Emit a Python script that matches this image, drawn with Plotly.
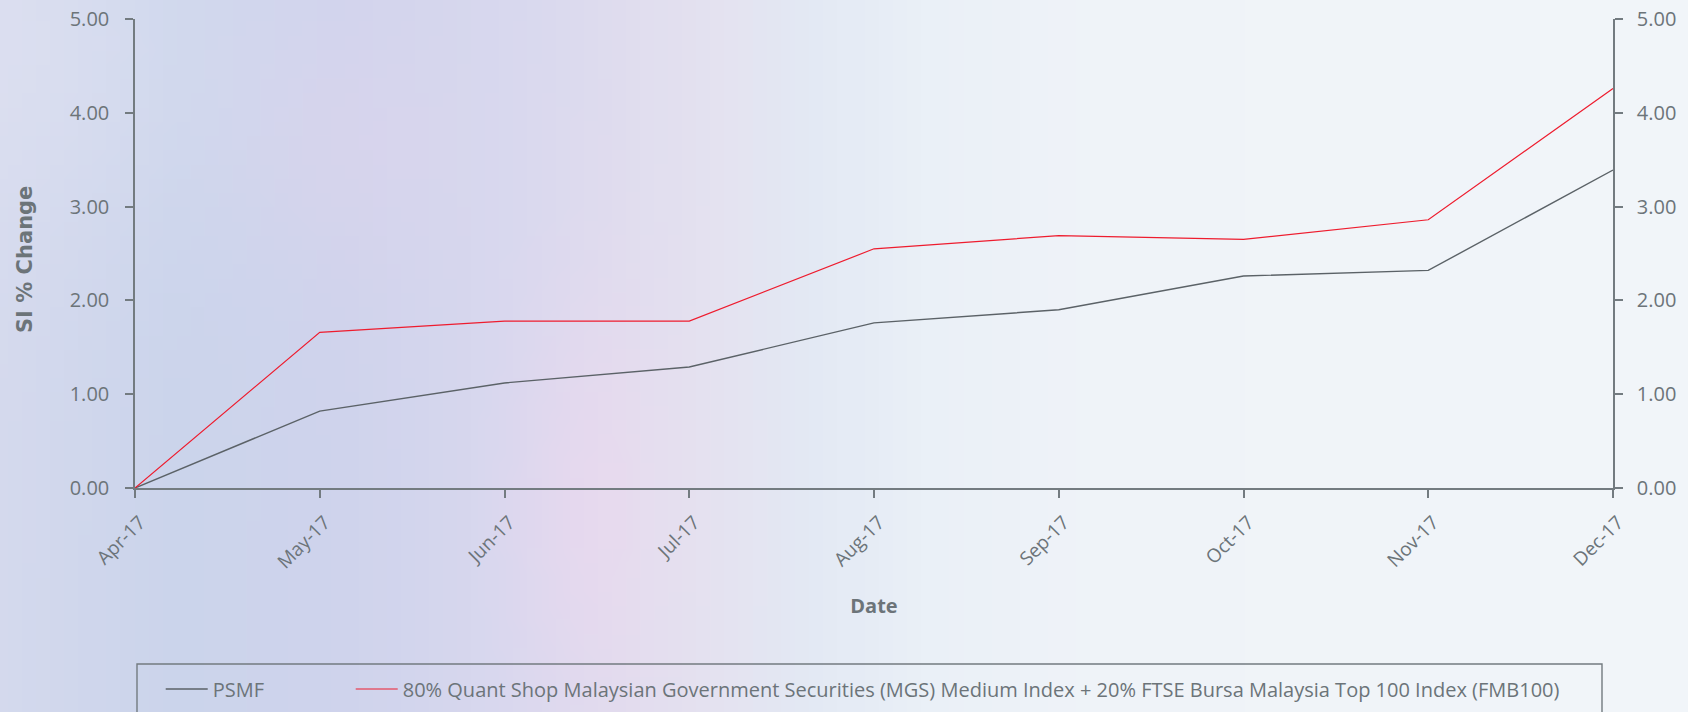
import base64, struct, zlib, math
import plotly.graph_objects as go

# ---------------- data ----------------
months = ["Apr-17", "May-17", "Jun-17", "Jul-17", "Aug-17", "Sep-17", "Oct-17", "Nov-17", "Dec-17"]
psmf = [0.00, 0.82, 1.12, 1.29, 1.76, 1.90, 2.26, 2.32, 3.39]
benchmark = [0.00, 1.66, 1.78, 1.78, 2.55, 2.69, 2.65, 2.86, 4.26]
y_ticks = [0, 1, 2, 3, 4, 5]
series_names = ["PSMF",
                "80% Quant Shop Malaysian Government Securities (MGS) Medium Index + 20% FTSE Bursa Malaysia Top 100 Index (FMB100)"]
y_title = "SI % Change"
x_title = "Date"

W, H = 1688, 712
ML, MR, MT, MB = 135, 75, 19, 224
PW, PH = W - ML - MR, H - MT - MB

GRAY = "#6c7479"
AXIS = "#737b80"
FONT = "Open Sans"

# ---------------- decorative background (watercolour wash) ----------------
def bg_png(w=120, h=50):
    stops = [(0.00, (212, 217, 237)), (0.10, (203, 212, 235)), (0.20, (207, 211, 236)),
             (0.30, (216, 216, 238)), (0.36, (223, 220, 238)), (0.42, (228, 226, 240)),
             (0.48, (227, 233, 244)), (0.55, (234, 240, 247)), (0.65, (239, 243, 248)),
             (1.00, (241, 245, 249))]
    def base(xf):
        for (x0, c0), (x1, c1) in zip(stops, stops[1:]):
            if x0 <= xf <= x1:
                t = (xf - x0) / (x1 - x0)
                return [c0[i] + (c1[i] - c0[i]) * t for i in range(3)]
        return list(stops[-1][1])
    rows = []
    for j in range(h):
        yf = j / (h - 1)
        row = bytearray([0])
        for i in range(w):
            xf = i / (w - 1)
            c = base(xf)
            g = math.exp(-((xf - 0.345) / 0.05) ** 2 - ((yf - 0.72) / 0.3) ** 2)
            c = [c[0] + 9 * g, c[1] - 2 * g, c[2] + 0 * g]
            g2 = math.exp(-((xf - 0.04) / 0.12) ** 2 - ((yf - 0.05) / 0.3) ** 2)
            c = [c[0] + 8 * g2, c[1] + 6 * g2, c[2] + 3 * g2]
            g3 = math.exp(-((xf - 0.2) / 0.06) ** 2 - ((yf - 0.2) / 0.2) ** 2)
            c = [c[0] + 6 * g3, c[1] + 0 * g3, c[2] + 0 * g3]
            row += bytes(max(0, min(255, int(round(v)))) for v in c)
        rows.append(bytes(row))
    raw = b"".join(rows)
    def chunk(t, d):
        return struct.pack(">I", len(d)) + t + d + struct.pack(">I", zlib.crc32(t + d) & 0xffffffff)
    png = b"\x89PNG\r\n\x1a\n" + chunk(b"IHDR", struct.pack(">IIBBBBB", w, h, 8, 2, 0, 0, 0)) \
        + chunk(b"IDAT", zlib.compress(raw, 9)) + chunk(b"IEND", b"")
    return "data:image/png;base64," + base64.b64encode(png).decode()

fig = go.Figure()
fig.add_trace(go.Scatter(x=months, y=psmf, name=series_names[0], mode="lines",
                         line=dict(color="#5b6267", width=1.4), yaxis="y", legend="legend"))
fig.add_trace(go.Scatter(x=months, y=benchmark, name=series_names[1], mode="lines",
                         line=dict(color="#ee1c2e", width=1.2), yaxis="y2", legend="legend2"))

axis_common = dict(range=[0, 5], tickvals=y_ticks, tickformat=".2f", showgrid=False, zeroline=False,
                   showline=True, linecolor=AXIS, linewidth=1.5, ticks="outside", ticklen=8,
                   tickcolor=AXIS, tickwidth=1.5, tickfont=dict(family=FONT, size=20, color=GRAY))

leg_common = dict(orientation="h", xanchor="left", y=-0.387, yanchor="top",
                  bgcolor="rgba(0,0,0,0)", borderwidth=0, itemwidth=42,
                  font=dict(family=FONT, size=20, color=GRAY))

fig.update_layout(
    width=W, height=H, autosize=False,
    margin=dict(l=ML, r=MR, t=MT, b=MB, pad=0, autoexpand=False),
    paper_bgcolor="#e8ecf5", plot_bgcolor="rgba(0,0,0,0)",
    font=dict(family=FONT, color=GRAY),
    xaxis=dict(type="category", range=[0, len(months) - 1], showgrid=False, zeroline=False,
               showline=True, linecolor=AXIS, linewidth=1.5, ticks="outside", ticklen=8,
               tickcolor=AXIS, tickwidth=1.5, tickangle=-45, ticklabelstandoff=6, ticklabelshift=5,
               tickfont=dict(family=FONT, size=19, color=GRAY),
               title=dict(text=x_title, standoff=26, font=dict(family=FONT, size=20, color=GRAY, weight="bold")),
               automargin=False),
    yaxis=dict(**axis_common, side="left", ticklabelstandoff=12, automargin=False),
    yaxis2=dict(**axis_common, side="right", overlaying="y", ticklabelstandoff=10, automargin=False),
    legend=dict(**leg_common, x=0.0174),
    legend2=dict(**leg_common, x=0.0174 + 190 / PW),
    showlegend=True,
    annotations=[dict(text=y_title, textangle=-90, xref="paper", yref="paper",
                      x=(25 - ML) / PW, y=(MT + PH - 260) / PH, xanchor="center", yanchor="middle",
                      showarrow=False,
                      font=dict(family="DejaVu Sans", size=21, color=GRAY, weight="bold"))],
    images=[dict(source=bg_png(), xref="paper", yref="paper",
                 x=-ML / PW, y=1 + MT / PH, sizex=W / PW, sizey=H / PH,
                 xanchor="left", yanchor="top", sizing="stretch", layer="below")],
    shapes=[dict(type="rect", xref="paper", yref="paper",
                 x0=(137 - ML) / PW, x1=(1602 - ML) / PW,
                 y0=(MT + PH - 664) / PH, y1=(MT + PH - 716) / PH,
                 line=dict(color=AXIS, width=1.4), fillcolor="rgba(0,0,0,0)", layer="above")],
)

fig.write_html("out.html")
